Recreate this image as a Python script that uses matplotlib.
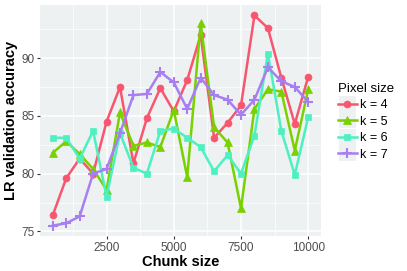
import matplotlib
matplotlib.use("Agg")
import matplotlib.pyplot as plt
from matplotlib.ticker import MultipleLocator
from matplotlib.patches import Rectangle

plt.rcParams["font.family"] = ["Liberation Sans", "DejaVu Sans"]

chunk_size = [500, 1000, 1500, 2000, 2500, 3000, 3500, 4000, 4500, 5000,
              5500, 6000, 6500, 7000, 7500, 8000, 8500, 9000, 9500, 10000]
k4 = [76.4, 79.6, 81.3, 80.0, 84.5, 87.5, 80.9, 84.8, 87.4, 85.4,
      88.1, 92.0, 83.1, 84.4, 85.9, 93.7, 92.6, 88.3, 84.3, 88.4]
k5 = [81.8, 82.8, 81.7, 80.4, 78.6, 85.3, 82.4, 82.7, 82.3, 85.5,
      79.7, 93.0, 84.0, 82.7, 77.0, 85.6, 87.3, 87.1, 82.0, 87.3]
k6 = [83.1, 83.1, 81.3, 83.7, 78.0, 83.5, 80.5, 80.0, 83.7, 83.9,
      83.1, 82.3, 80.2, 81.6, 80.0, 83.3, 90.4, 83.7, 79.9, 84.9]
k7 = [75.5, 75.7, 76.3, 80.0, 80.4, 83.5, 86.8, 86.9, 88.8, 87.9,
      85.6, 88.3, 86.8, 86.4, 85.1, 86.4, 89.2, 88.0, 87.5, 86.2]
series_labels = ["k = 4", "k = 5", "k = 6", "k = 7"]
y_ticks = [75, 80, 85, 90]
x_ticks = [2500, 5000, 7500, 10000]

colors = ["#F8566F", "#79D100", "#4DF0C0", "#A77FF0"]
markers = ["o", "^", "s", "+"]
msizes = [5, 6, 5, 7]

fig = plt.figure(figsize=(4.07, 2.71), dpi=100)
ax = fig.add_axes([40/407, 1-236/271, (321-40)/407, (236-5)/271])
ax.set_facecolor("#EDF1F2")

for vals, lab, c, m, ms in zip([k4, k5, k6, k7], series_labels, colors, markers, msizes):
    ax.plot(chunk_size, vals, color=c, lw=1.8, marker=m, ms=ms,
            mew=1.5 if m == "+" else 0.5, mec=c, label=lab, zorder=3)

ax.set_xlim(25, 10475)
ax.set_ylim(74.6, 94.6)
ax.set_xticks(x_ticks)
ax.set_yticks(y_ticks)
ax.xaxis.set_minor_locator(MultipleLocator(1250))
ax.yaxis.set_minor_locator(MultipleLocator(2.5))
ax.grid(which="major", color="white", lw=1.1, zorder=0)
ax.grid(which="minor", color="white", lw=0.5, zorder=0)
ax.set_axisbelow(True)
for s in ax.spines.values():
    s.set_visible(False)
ax.tick_params(which="major", length=2.5, color="#333333", labelsize=8.5, labelcolor="#4D4D4D", pad=1.5)
ax.tick_params(which="minor", length=0)
ax.set_xlabel("Chunk size", fontsize=10.5, fontweight="bold", labelpad=1)
ax.set_ylabel("LR validation accuracy", fontsize=10.5, fontweight="bold", labelpad=2)

leg = fig.legend(loc="upper left", bbox_to_anchor=(333/407, 1-78/271), title="Pixel size",
                 fontsize=9, title_fontsize=9.5, frameon=False, handlelength=1.5,
                 handletextpad=0.25, labelspacing=0.35, borderaxespad=0)
leg._legend_box.align = "left"

# grey key backgrounds behind legend handles
fig.canvas.draw()
renderer = fig.canvas.get_renderer()
inv = fig.transFigure.inverted()
for h in leg.legend_handles:
    bb = h.get_window_extent(renderer)
    cx = (bb.x0 + bb.x1) / 2
    cy = (bb.y0 + bb.y1) / 2
    (x0, y0) = inv.transform((cx - 8.5, cy - 8))
    (x1, y1) = inv.transform((cx + 8.5, cy + 8))
    fig.patches.append(Rectangle((x0, y0), x1 - x0, y1 - y0, transform=fig.transFigure,
                                 facecolor="#EDF1F2", edgecolor="none", zorder=0))

fig.savefig("out.png", dpi=100)
